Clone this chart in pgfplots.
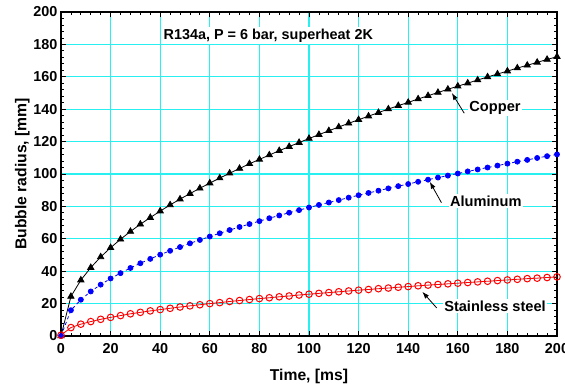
\documentclass[border=0pt]{standalone}
\usepackage{fontspec}
\setmainfont{Liberation Sans}
\usepackage{pgfplots}
\pgfplotsset{compat=1.18}
\usetikzlibrary{arrows.meta}
\definecolor{gridcyan}{RGB}{40,240,240}
\begin{document}
\begin{tikzpicture}
\begin{axis}[
  scale only axis, width=496pt, height=324pt,
  xmin=0, xmax=200, ymin=0, ymax=200,
  xtick={0,20,...,200}, ytick={0,20,...,200},
  minor tick num=4,
  tick align=inside, xtick pos=both, ytick pos=both,
  major tick length=5pt, minor tick length=3pt,
  every tick/.style={black, line width=0.8pt},
  grid=major, major grid style={gridcyan, line width=1.3pt},
  axis line style={line width=1.6pt},
  /pgf/number format/assume math mode=true,
  ticklabel style={font=\bfseries\fontsize{14.4}{16}\selectfont},
  xticklabel style={yshift=-4pt},
  xlabel={Time, [ms]}, ylabel={Bubble radius, [mm]},
  label style={font=\bfseries\fontsize{15.7}{18}\selectfont},
  xlabel style={yshift=-9pt},
  ylabel style={yshift=-3pt},
]
\addplot[black, line width=0.8pt, mark=triangle*, mark size=3.6pt, mark options={solid}] coordinates {
(0,0) (4,24.4) (8,34.5) (12,42.2) (16,48.8) (20,54.5) (24,59.7) (28,64.5) (32,69.0) (36,73.1)
(40,77.1) (44,80.9) (48,84.5) (52,87.9) (56,91.2) (60,94.4) (64,97.5) (68,100.5) (72,103.4) (76,106.3)
(80,109.0) (84,111.7) (88,114.4) (92,116.9) (96,119.4) (100,121.9) (104,124.3) (108,126.7) (112,129.0) (116,131.3)
(120,133.5) (124,135.7) (128,137.9) (132,140.1) (136,142.2) (140,144.2) (144,146.3) (148,148.3) (152,150.3) (156,152.3)
(160,154.2) (164,156.1) (168,158.0) (172,159.9) (176,161.7) (180,163.5) (184,165.4) (188,167.1) (192,168.9) (196,170.7)
(200,172.4)};
\addplot[blue, line width=0.8pt, dashed, mark=*, mark size=2.5pt, mark options={solid}] coordinates {
(0,0) (4,15.9) (8,22.4) (12,27.5) (16,31.7) (20,35.5) (24,38.8) (28,42.0) (32,44.9) (36,47.6)
(40,50.2) (44,52.6) (48,54.9) (52,57.2) (56,59.3) (60,61.4) (64,63.4) (68,65.4) (72,67.3) (76,69.1)
(80,70.9) (84,72.7) (88,74.4) (92,76.1) (96,77.7) (100,79.3) (104,80.9) (108,82.4) (112,83.9) (116,85.4)
(120,86.9) (124,88.3) (128,89.7) (132,91.1) (136,92.5) (140,93.8) (144,95.2) (148,96.5) (152,97.8) (156,99.0)
(160,100.3) (164,101.6) (168,102.8) (172,104.0) (176,105.2) (180,106.4) (184,107.6) (188,108.7) (192,109.9) (196,111.0)
(200,112.1)};
\addplot[red, line width=0.8pt, mark=o, mark size=3.3pt, mark options={solid, fill=white, line width=1pt}] coordinates {
(0,0.5) (4,5.2) (8,7.3) (12,8.9) (16,10.3) (20,11.5) (24,12.6) (28,13.7) (32,14.6) (36,15.5)
(40,16.3) (44,17.1) (48,17.9) (52,18.6) (56,19.3) (60,20.0) (64,20.6) (68,21.3) (72,21.9) (76,22.5)
(80,23.1) (84,23.6) (88,24.2) (92,24.7) (96,25.3) (100,25.8) (104,26.3) (108,26.8) (112,27.3) (116,27.8)
(120,28.3) (124,28.7) (128,29.2) (132,29.6) (136,30.1) (140,30.5) (144,31.0) (148,31.4) (152,31.8) (156,32.2)
(160,32.6) (164,33.0) (168,33.4) (172,33.8) (176,34.2) (180,34.6) (184,35.0) (188,35.4) (192,35.7) (196,36.1)
(200,36.5)};
\node[fill=white, inner sep=2pt, font=\bfseries\fontsize{14.4}{16}\selectfont] at (axis cs:83.6,185.5) {R134a, P = 6 bar, superheat 2K};
\node[fill=white, inner sep=1.5pt, font=\bfseries\fontsize{14.6}{16}\selectfont] at (axis cs:175,140.7) {Copper};
\node[fill=white, inner sep=1.5pt, font=\bfseries\fontsize{14.6}{16}\selectfont] at (axis cs:171.3,83.3) {Aluminum};
\node[fill=white, inner sep=1.5pt, font=\bfseries\fontsize{14.6}{16}\selectfont] at (axis cs:175,18.5) {Stainless steel};
\draw[-{Latex[length=7pt,width=5pt]}, line width=0.8pt] (axis cs:162.6,137.5) -- (axis cs:157.6,150);
\draw[-{Latex[length=7pt,width=5pt]}, line width=0.8pt] (axis cs:153.4,82.3) -- (axis cs:148.7,95.2);
\draw[-{Latex[length=7pt,width=5pt]}, line width=0.8pt] (axis cs:151.5,17.3) -- (axis cs:145.7,27.3);
\end{axis}
\pgfresetboundingbox
\path ([shift={(-61pt,-49pt)}]current axis.south west) rectangle ([shift={(8pt,12pt)}]current axis.north east);
\end{tikzpicture}
\end{document}
